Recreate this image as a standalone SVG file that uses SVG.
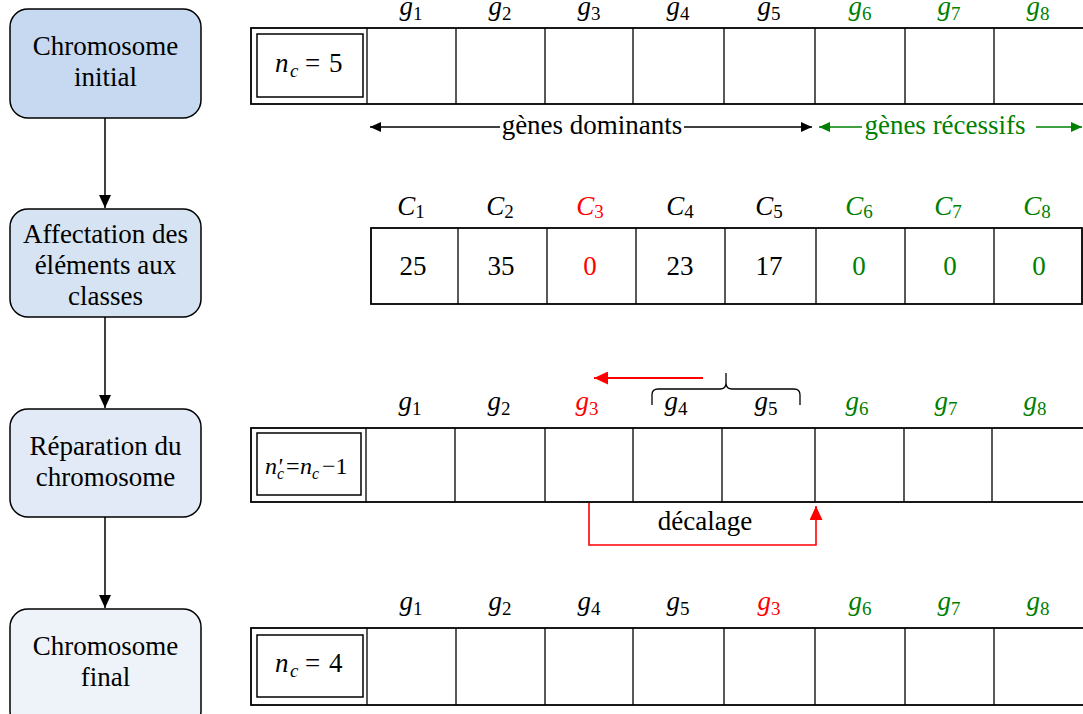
<svg xmlns="http://www.w3.org/2000/svg" width="1083" height="714" viewBox="0 0 1083 714">
<style>
.t{font-family:"Liberation Serif","Times New Roman",serif;font-size:27px;fill:#000}
.m{text-anchor:middle}
.i{font-style:italic}
.s{font-size:19px}
.red{fill:#ff0000}
.grn{fill:#008000}
.box{stroke:#000;stroke-width:1.5}
.row{fill:#fff;stroke:#000;stroke-width:1.8}
.div{stroke:#000;stroke-width:1.3;fill:none}
.inner{fill:none;stroke:#000;stroke-width:1.5}
.conn{stroke:#000;stroke-width:1.5;fill:none}
</style>
<defs>
<marker id="ab" markerUnits="userSpaceOnUse" markerWidth="14" markerHeight="12" refX="13" refY="6" orient="auto-start-reverse"><path d="M0,0 L13,6 L0,12 z" fill="#000"/></marker>
<marker id="ah" markerUnits="userSpaceOnUse" markerWidth="12" markerHeight="10" refX="11" refY="5" orient="auto-start-reverse"><path d="M0,0 L11,5 L0,10 z" fill="#000"/></marker>
<marker id="ag" markerUnits="userSpaceOnUse" markerWidth="12" markerHeight="10" refX="11" refY="5" orient="auto-start-reverse"><path d="M0,0 L11,5 L0,10 z" fill="#008000"/></marker>
<marker id="ar" markerUnits="userSpaceOnUse" markerWidth="15" markerHeight="13" refX="14" refY="6.5" orient="auto-start-reverse"><path d="M0,0 L14,6.5 L0,13 z" fill="#ff0000"/></marker>
</defs>

<g id="node-initial">
<rect class="box" x="10" y="9" width="191" height="109" rx="18" fill="#c6d9f0"/>
<text class="t m" x="105.5" y="55">Chromosome</text>
<text class="t m" x="105.5" y="86">initial</text>
</g>
<g id="node-affectation">
<rect class="box" x="10" y="209" width="191" height="108" rx="18" fill="#d6e3f3"/>
<text class="t m" x="105.5" y="243">Affectation des</text>
<text class="t m" x="105.5" y="274">éléments aux</text>
<text class="t m" x="105.5" y="305">classes</text>
</g>
<g id="node-reparation">
<rect class="box" x="10" y="409" width="191" height="108" rx="18" fill="#e1eaf6"/>
<text class="t m" x="105.5" y="455">Réparation du</text>
<text class="t m" x="105.5" y="486">chromosome</text>
</g>
<g id="node-final">
<rect class="box" x="10" y="609" width="191" height="120" rx="18" fill="#eef3fa"/>
<text class="t m" x="105.5" y="655">Chromosome</text>
<text class="t m" x="105.5" y="686">final</text>
</g>

<g id="connectors">
<line class="conn" x1="105" y1="118" x2="105" y2="208" marker-end="url(#ab)"/>
<line class="conn" x1="105" y1="317" x2="105" y2="408" marker-end="url(#ab)"/>
<line class="conn" x1="105" y1="517" x2="105" y2="608" marker-end="url(#ab)"/>
</g>

<g id="row1">
<rect class="row" x="251" y="28" width="845" height="76"/>
<rect class="inner" x="257" y="34" width="106" height="63"/>
<path class="div" d="M367,28V104M456,28V104M545,28V104M633,28V104M724,28V104M815,28V104M905,28V104M994,28V104"/>
<text class="t" y="72"><tspan class="i" x="275">n</tspan><tspan class="i s" x="290" y="77">c</tspan><tspan x="305" y="72">=</tspan><tspan x="329">5</tspan></text>
<text class="t m" x="411" y="15"><tspan class="i">g</tspan><tspan class="s" dy="5">1</tspan></text>
<text class="t m" x="500" y="15"><tspan class="i">g</tspan><tspan class="s" dy="5">2</tspan></text>
<text class="t m" x="589" y="15"><tspan class="i">g</tspan><tspan class="s" dy="5">3</tspan></text>
<text class="t m" x="678" y="15"><tspan class="i">g</tspan><tspan class="s" dy="5">4</tspan></text>
<text class="t m" x="769" y="15"><tspan class="i">g</tspan><tspan class="s" dy="5">5</tspan></text>
<text class="t m grn" x="860" y="15"><tspan class="i">g</tspan><tspan class="s" dy="5">6</tspan></text>
<text class="t m grn" x="949" y="15"><tspan class="i">g</tspan><tspan class="s" dy="5">7</tspan></text>
<text class="t m grn" x="1038" y="15"><tspan class="i">g</tspan><tspan class="s" dy="5">8</tspan></text>
</g>

<g id="legend">
<line class="conn" x1="370" y1="127" x2="500" y2="127" marker-start="url(#ah)"/>
<line class="conn" x1="684" y1="127" x2="812" y2="127" marker-end="url(#ah)"/>
<text class="t m" x="592" y="134">gènes dominants</text>
<line x1="819" y1="127" x2="862" y2="127" stroke="#008000" stroke-width="1.5" marker-start="url(#ag)"/>
<line x1="1036" y1="127" x2="1082" y2="127" stroke="#008000" stroke-width="1.5" marker-end="url(#ag)"/>
<text class="t m grn" x="945" y="134">gènes récessifs</text>
</g>

<g id="row2">
<rect class="row" x="371" y="228" width="711" height="76"/>
<path class="div" d="M458,228V304M547,228V304M636,228V304M725,228V304M816,228V304M905,228V304M994,228V304"/>
<text class="t m" x="411" y="215"><tspan class="i">C</tspan><tspan class="s" dy="3">1</tspan></text>
<text class="t m" x="500" y="215"><tspan class="i">C</tspan><tspan class="s" dy="3">2</tspan></text>
<text class="t m red" x="590" y="215"><tspan class="i">C</tspan><tspan class="s" dy="3">3</tspan></text>
<text class="t m" x="680" y="215"><tspan class="i">C</tspan><tspan class="s" dy="3">4</tspan></text>
<text class="t m" x="769" y="215"><tspan class="i">C</tspan><tspan class="s" dy="3">5</tspan></text>
<text class="t m grn" x="859" y="215"><tspan class="i">C</tspan><tspan class="s" dy="3">6</tspan></text>
<text class="t m grn" x="948" y="215"><tspan class="i">C</tspan><tspan class="s" dy="3">7</tspan></text>
<text class="t m grn" x="1037" y="215"><tspan class="i">C</tspan><tspan class="s" dy="3">8</tspan></text>
<text class="t m" x="413" y="275">25</text>
<text class="t m" x="501" y="275">35</text>
<text class="t m red" x="590" y="275">0</text>
<text class="t m" x="680" y="275">23</text>
<text class="t m" x="769" y="275">17</text>
<text class="t m grn" x="859" y="275">0</text>
<text class="t m grn" x="950" y="275">0</text>
<text class="t m grn" x="1039" y="275">0</text>
</g>

<g id="row3">
<rect class="row" x="251" y="428" width="845" height="74"/>
<rect class="inner" x="257" y="433" width="104" height="62"/>
<path class="div" d="M366,428V502M455,428V502M545,428V502M633,428V502M722,428V502M815,428V502M904,428V502M992,428V502"/>
<text class="t" y="474" style="font-size:24px"><tspan class="i" x="265">n'</tspan><tspan class="i" x="277" y="479" style="font-size:16px">c</tspan><tspan x="286" y="474">=</tspan><tspan class="i" x="300">n</tspan><tspan class="i" x="312" y="479" style="font-size:16px">c</tspan><tspan x="322" y="474">−1</tspan></text>
<text class="t m" x="410" y="410"><tspan class="i">g</tspan><tspan class="s" dy="5">1</tspan></text>
<text class="t m" x="499" y="410"><tspan class="i">g</tspan><tspan class="s" dy="5">2</tspan></text>
<text class="t m red" x="587" y="410"><tspan class="i">g</tspan><tspan class="s" dy="5">3</tspan></text>
<text class="t m" x="676" y="410"><tspan class="i">g</tspan><tspan class="s" dy="5">4</tspan></text>
<text class="t m" x="766" y="410"><tspan class="i">g</tspan><tspan class="s" dy="5">5</tspan></text>
<text class="t m grn" x="857" y="410"><tspan class="i">g</tspan><tspan class="s" dy="5">6</tspan></text>
<text class="t m grn" x="946" y="410"><tspan class="i">g</tspan><tspan class="s" dy="5">7</tspan></text>
<text class="t m grn" x="1035" y="410"><tspan class="i">g</tspan><tspan class="s" dy="5">8</tspan></text>
<path class="div" d="M652,405V395Q652,389 658,389H720Q726,389 726,383V373M726,383Q726,389 732,389H794Q800,389 800,395V405" stroke-width="1.4"/>
<line x1="703" y1="378" x2="594" y2="378" stroke="#ff0000" stroke-width="2" marker-end="url(#ar)"/>
<path d="M589,503V545H816V506" fill="none" stroke="#ff0000" stroke-width="1.6" marker-end="url(#ar)"/>
<text class="t m" x="705" y="530">décalage</text>
</g>

<g id="row4">
<rect class="row" x="251" y="628" width="845" height="77"/>
<rect class="inner" x="257" y="635" width="106" height="62"/>
<path class="div" d="M367,628V705M456,628V705M545,628V705M633,628V705M724,628V705M815,628V705M905,628V705M994,628V705"/>
<text class="t" y="672"><tspan class="i" x="275">n</tspan><tspan class="i s" x="290" y="677">c</tspan><tspan x="305" y="672">=</tspan><tspan x="329">4</tspan></text>
<text class="t m" x="411" y="610"><tspan class="i">g</tspan><tspan class="s" dy="5">1</tspan></text>
<text class="t m" x="500" y="610"><tspan class="i">g</tspan><tspan class="s" dy="5">2</tspan></text>
<text class="t m" x="589" y="610"><tspan class="i">g</tspan><tspan class="s" dy="5">4</tspan></text>
<text class="t m" x="678" y="610"><tspan class="i">g</tspan><tspan class="s" dy="5">5</tspan></text>
<text class="t m red" x="769" y="610"><tspan class="i">g</tspan><tspan class="s" dy="5">3</tspan></text>
<text class="t m grn" x="860" y="610"><tspan class="i">g</tspan><tspan class="s" dy="5">6</tspan></text>
<text class="t m grn" x="949" y="610"><tspan class="i">g</tspan><tspan class="s" dy="5">7</tspan></text>
<text class="t m grn" x="1038" y="610"><tspan class="i">g</tspan><tspan class="s" dy="5">8</tspan></text>
</g>
</svg>
